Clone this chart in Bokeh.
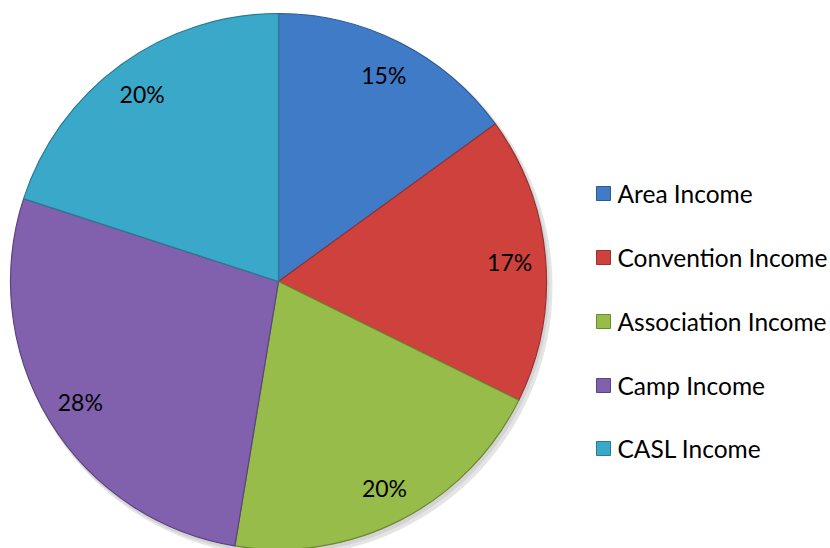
import math
from bokeh.plotting import figure
from bokeh.models import Range1d, ColumnDataSource
from bokeh.core.properties import value
from bokeh.embed import file_html
from bokeh.resources import INLINE

categories = ["Area Income", "Convention Income", "Association Income", "Camp Income", "CASL Income"]
shares = [15.0, 17.3, 20.3, 27.4, 20.0]
labels = ["15%", "17%", "20%", "28%", "20%"]
colors = ["#3f7bc6", "#cf413d", "#97bc4a", "#8160ad", "#3aa9c9"]
edge_colors = ["#2c5a94", "#963230", "#6a8a32", "#5c437e", "#297b93"]

W, H = 830, 548
cx, cy, r = 278, H - 281, 268
label_r = 232

total = float(sum(shares))
starts, ends, lx, ly = [], [], [], []
cum = 0.0
for s in shares:
    a0 = cum / total * 2 * math.pi
    cum += s
    a1 = cum / total * 2 * math.pi
    starts.append(math.pi / 2 - a1)
    ends.append(math.pi / 2 - a0)
    mid = (a0 + a1) / 2
    lx.append(cx + label_r * math.sin(mid))
    ly.append(cy + label_r * math.cos(mid))

src = ColumnDataSource(dict(start=starts, end=ends, color=colors, edge=edge_colors,
                            lx=lx, ly=ly, label=labels))

p = figure(width=W, height=H, output_backend="svg", toolbar_location=None,
           x_range=Range1d(0, W), y_range=Range1d(0, H), min_border=0)
p.axis.visible = False
p.grid.visible = False
p.outline_line_color = None
p.background_fill_color = "white"

# soft shadow
p.circle(x=cx + 4, y=cy - 5, radius=r + 2, fill_color="#d8d8d8", line_color=None, fill_alpha=0.7)
p.circle(x=cx + 2, y=cy - 3, radius=r + 1, fill_color="#c8c8c8", line_color=None, fill_alpha=0.6)

p.wedge(x=cx, y=cy, radius=r, start_angle="start", end_angle="end", source=src,
        fill_color="color", line_color="edge", line_width=1.2)

p.text(x="lx", y="ly", text="label", source=src, text_align="center", text_baseline="middle",
       text_font=value("Lato"), text_font_size="23px", text_color="black")

leg_y = [H - 193, H - 257, H - 321, H - 385, H - 448]
leg_src = ColumnDataSource(dict(y=leg_y, color=colors, edge=edge_colors, name=categories,
                                mx=[603] * 5, tx=[617] * 5))
p.rect(x="mx", y="y", width=14, height=14, source=leg_src, fill_color="color",
       line_color="edge", line_width=1)
p.text(x="tx", y="y", text="name", source=leg_src, text_align="left", text_baseline="middle",
       text_font=value("Lato"), text_font_size="24.5px", text_color="black")

open("out.html", "w").write(file_html(p, INLINE))
